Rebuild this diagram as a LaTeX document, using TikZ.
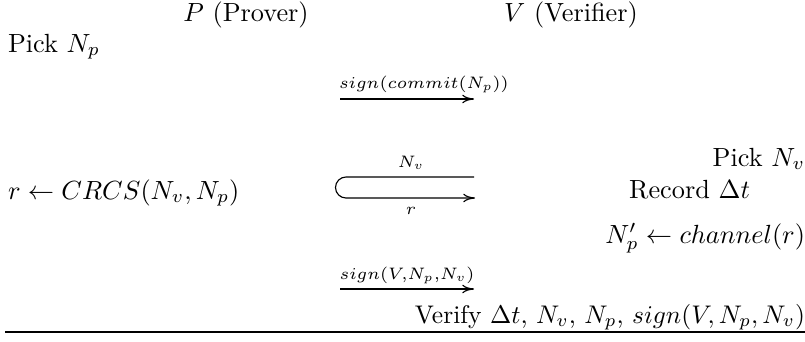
\RequirePackage{fix-cm}
\documentclass[tikz,border=0pt]{standalone}
\usetikzlibrary{arrows.meta}
\begin{document}
\begin{tikzpicture}[x=0.39216pt,y=-0.39216pt,
  txt/.style={inner sep=0pt, outer sep=0pt, font=\fontsize{10.3}{12}\selectfont},
  lbl/.style={inner sep=0pt, outer sep=0pt, font=\fontsize{9.3}{11}\selectfont},
  msg/.style={-{Computer Modern Rightarrow[length=4.6pt,width=3.4pt]}, line width=0.45pt}]
\useasboundingbox (0,0) rectangle (805,341);
% headers
\node[txt, anchor=base] (hp) at (246,21) {$P$ (Prover)};
\node[txt, anchor=base] (hv) at (571,21) {$V$ (Verifier)};
% step 1
\node[txt, anchor=base west] (pickp) at (8,52) {Pick $N_p$};
\coordinate (a1s) at (340,99);
\coordinate (a1e) at (474,99);
\draw[msg] (a1s) -- (a1e);
\node[lbl, anchor=base west] (l1) at (339,88) {$\scriptstyle sign(commit(N_p))$};
% step 2
\node[txt, anchor=base east] (pickv) at (805,166) {Pick $N_v$};
\coordinate (lt) at (474,177);
\coordinate (lb) at (475,198);
\draw[msg] (lt) -- (346,177) arc[start angle=90, end angle=270, radius=4.12pt] -- (lb);
\node[lbl, anchor=base] (lnv) at (411,167) {$\scriptstyle N_v$};
\node[lbl, anchor=base] (lr) at (411,214) {$\scriptstyle r$};
\node[txt, anchor=base west] (crcs) at (8,199) {$r \leftarrow CRCS(N_v,N_p)$};
\node[txt, anchor=base east] (rec) at (750,198) {Record $\Delta t$};
\node[txt, anchor=base east] (chan) at (805,243) {$N'_p \leftarrow channel(r)$};
% step 3
\coordinate (a3s) at (340,289);
\coordinate (a3e) at (474,289);
\draw[msg] (a3s) -- (a3e);
\node[lbl, anchor=base] (l3) at (407,279) {$\scriptstyle sign(V,N_p,N_v)$};
\node[txt, anchor=base east, font=\fontsize{10}{12}\selectfont] (ver) at (805,323) {Verify $\Delta t$, $N_v$, $N_p$, $sign(V,N_p,N_v)$};
\coordinate (hl) at (5,332);
\coordinate (hr) at (805,332);
\draw[line width=0.6pt] (hl) -- (hr);
\end{tikzpicture}
\end{document}
